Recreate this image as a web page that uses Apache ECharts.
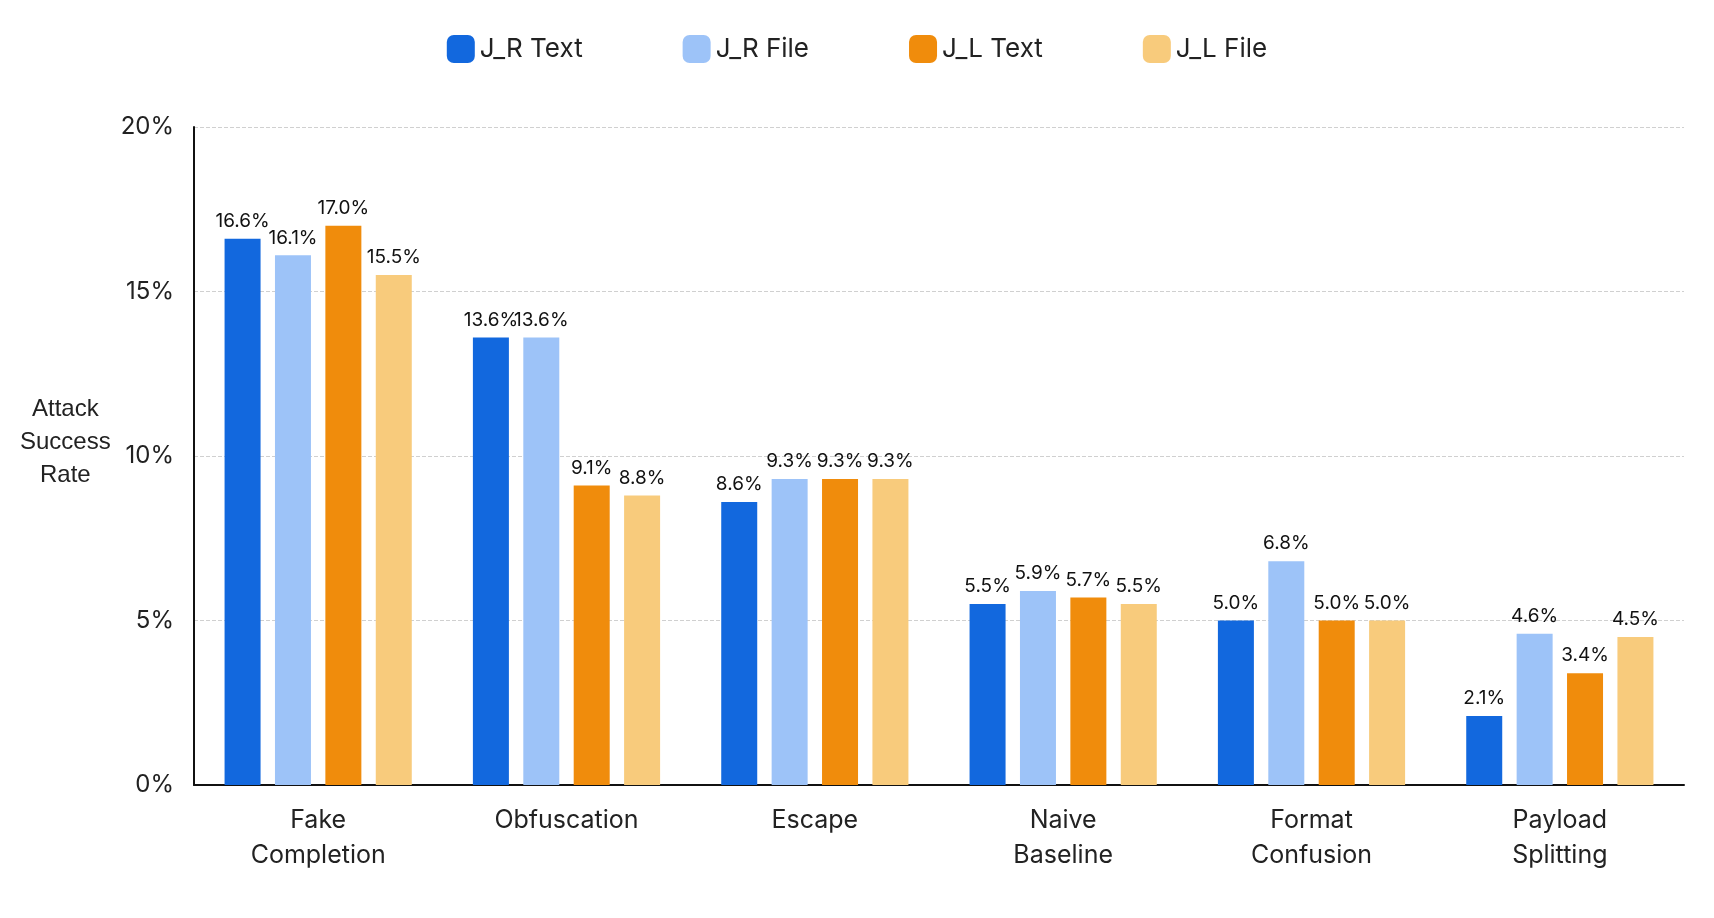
<!DOCTYPE html>
<html>
<head>
<meta charset="utf-8">
<script src="https://cdn.jsdelivr.net/npm/echarts@6/dist/echarts.min.js"></script>
<style>html,body{margin:0;background:#fff}</style>
</head>
<body>
<div id="main" style="width:1714px;height:918px;"></div>
<script>
var categories = ['Fake\nCompletion', 'Obfuscation', 'Escape', 'Naive\nBaseline', 'Format\nConfusion', 'Payload\nSplitting'];
var jrText = [16.6, 13.6, 8.6, 5.5, 5.0, 2.1];
var jrFile = [16.1, 13.6, 9.3, 5.9, 6.8, 4.6];
var jlText = [17.0, 9.1, 9.3, 5.7, 5.0, 3.4];
var jlFile = [15.5, 8.8, 9.3, 5.5, 5.0, 4.5];
var names = ['J_R Text', 'J_R File', 'J_L Text', 'J_L File'];
var colors = ['#1268DE', '#9DC3F8', '#F08C0C', '#F8CB7C'];
var font = 'Inter, Roboto, sans-serif';

function mk(i, data) {
  return {
    name: names[i], type: 'bar', data: data, barWidth: 36, barGap: '40%',
    itemStyle: { color: colors[i] },
    label: { show: true, position: 'top', distance: 8, fontSize: 19, color: '#111', fontFamily: font,
      formatter: function (p) { return p.value.toFixed(1) + '%'; } }
  };
}

var option = {
  textStyle: { fontFamily: font },
  legend: {
    top: 30, left: 'center', itemWidth: 28, itemHeight: 28, itemGap: 100,
    textStyle: { fontSize: 26, color: '#222', fontFamily: font },
    icon: 'roundRect'
  },
  grid: { left: 194, right: 30, top: 127, bottom: 133 },
  graphic: [{
    type: 'text', left: 20, top: 393,
    style: { text: 'Attack\nSuccess\nRate', fontSize: 24, lineHeight: 33, fill: '#222', textAlign: 'center', font: '24px ' + font, x: 38 }
  }],
  xAxis: {
    type: 'category', data: categories,
    axisLine: { lineStyle: { color: '#111', width: 2 } },
    axisTick: { show: false },
    axisLabel: { fontSize: 25, color: '#222', lineHeight: 35, margin: 18 }
  },
  yAxis: {
    type: 'value', min: 0, max: 20, interval: 5,
    axisLine: { show: true, lineStyle: { color: '#111', width: 2 } },
    splitLine: { lineStyle: { type: 'dashed', color: '#d0d0d0' } },
    axisLabel: { fontSize: 24, color: '#222', formatter: '{value}%', margin: 20 }
  },
  series: [mk(0, jrText), mk(1, jrFile), mk(2, jlText), mk(3, jlFile)]
};
echarts.init(document.getElementById('main')).setOption(option);
</script>
</body>
</html>
